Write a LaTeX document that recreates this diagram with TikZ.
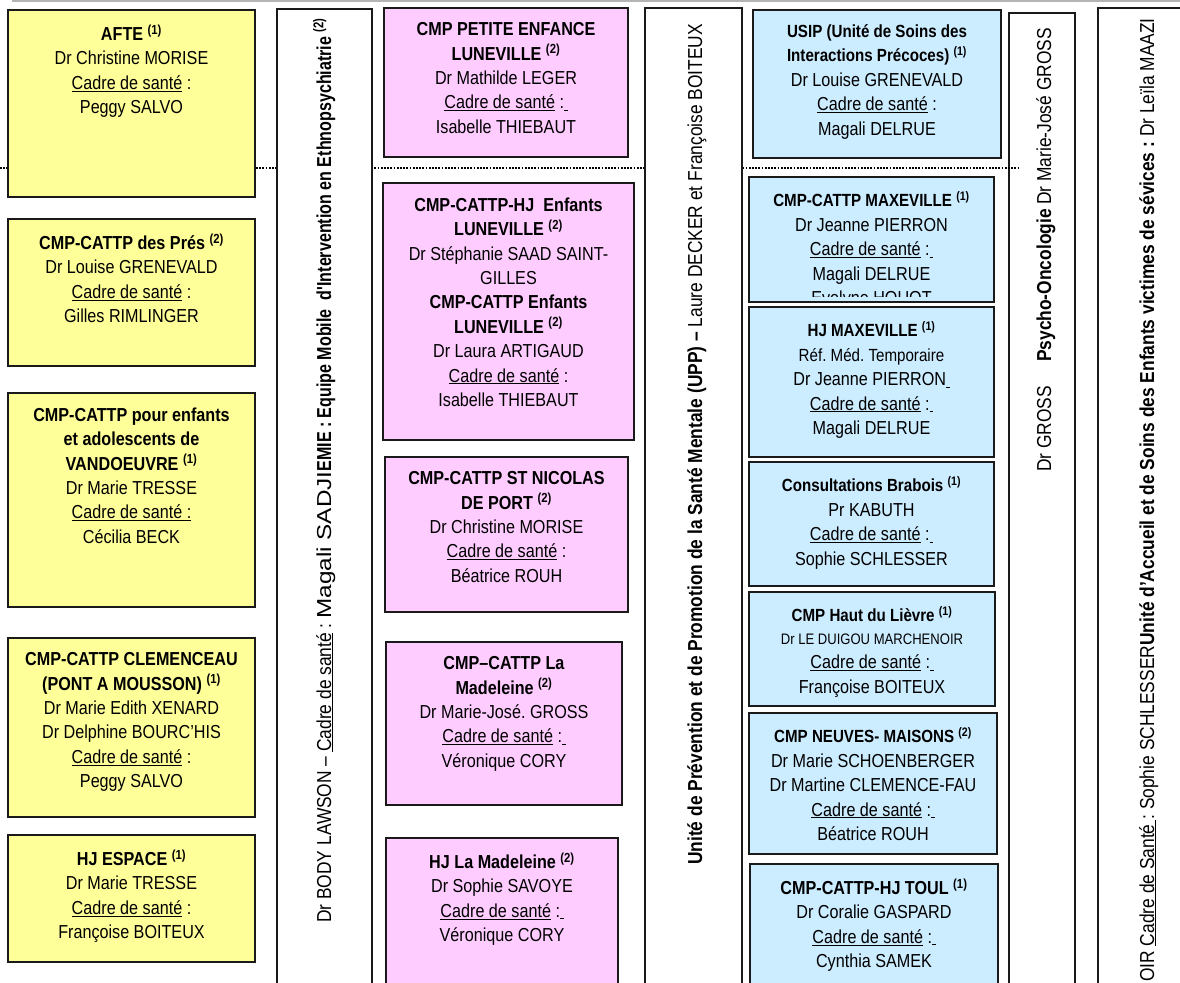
\documentclass[tikz,border=0pt]{standalone}
\usepackage{fontspec}
\setmainfont{Liberation Sans}[FakeStretch=0.86]
\newfontfamily\wideff{Liberation Sans}[FakeStretch=1.2]
\newfontfamily\condff{Liberation Sans}[FakeStretch=0.795]
\usetikzlibrary{fit}
\definecolor{ybg}{HTML}{FFFF99}
\definecolor{pbg}{HTML}{FFCCFF}
\definecolor{bbg}{HTML}{CCECFF}
\definecolor{edgec}{HTML}{1A1A1A}
\definecolor{toplinec}{HTML}{B4B4B4}
\newcommand\normsz{\fontsize{18.8}{24.4}\selectfont}
\newcommand\smsz{\fontsize{17.6}{24.4}\selectfont}
\newcommand\tinysz{\fontsize{15.2}{22}\selectfont}
\newcommand\rotsz{\fontsize{20.2}{24}\selectfont}
\newcommand\cadre{\underline{Cadre de santé}}
\newcommand\usp{\underline{\hspace{3.5pt}}}
\newcommand\nsup[1]{\textsuperscript{(#1)}}
\newcommand\btitle[1]{{\smsz\bfseries #1}}
\newcommand\orgbox[7]{%
  \node[orgbox, fill=#2, fit={(#3,#4) (#5,#6)}] (#1) {};
  \node[txt] (#1-t) at ([yshift=-15.3pt]#1.north) {#7};
}
\begin{document}
\frenchspacing
\begin{tikzpicture}[x=1pt,y=-1pt,
  orgbox/.style={draw=edgec, line width=1.8pt, inner sep=0pt},
  colbox/.style={draw=edgec, line width=1.8pt, fill=white, inner sep=0pt},
  txt/.style={inner sep=0pt, anchor=north, align=center, font=\normsz, execute at begin node=\strut},
  rot/.style={rotate=90, inner sep=0pt, font=\rotsz},
  dotline/.style={line width=1.2pt, dash pattern=on 1.8pt off 1.4pt},
  topline/.style={draw=toplinec, line width=1.5pt}]
\useasboundingbox (0,0) rectangle (1180,982);

\coordinate (tl-a) at (12,1);
\coordinate (tl-b) at (1180,1);
\draw[topline] (tl-a) -- (tl-b);

% Psycho-Oncologie column (the dotted line runs over its edge)
\node[colbox, fit={(1009,13) (1075,1000)}] (colpo) {};
\coordinate (dl-a) at (0,168);
\coordinate (dl-b) at (1020,168);
\draw[dotline] (dl-a) -- (dl-b);
\node[colbox, fit={(277,9) (372,1000)}] (colemie) {};
\node[colbox, fit={(645,8) (742,1000)}] (colupp) {};
\node[colbox, fit={(1098,8) (1190,1000)}] (coluas) {};

% yellow column
\orgbox{afte}{ybg}{8}{10}{255}{197}{\textbf{AFTE \nsup{1}}\\Dr Christine MORISE\\\cadre{} :\\Peggy SALVO}
\orgbox{pres}{ybg}{8}{219}{255}{366}{\textbf{CMP-CATTP des Prés \nsup{2}}\\Dr Louise GRENEVALD\\\cadre{} :\\Gilles RIMLINGER}
\orgbox{vand}{ybg}{8}{393}{255}{607}{\textbf{CMP-CATTP pour enfants}\\\textbf{et adolescents de}\\\textbf{VANDOEUVRE \nsup{1}}\\Dr Marie TRESSE\\\underline{Cadre de santé :}\\Cécilia BECK}
\orgbox{clem}{ybg}{8}{638}{255}{817}{\textbf{CMP-CATTP CLEMENCEAU}\\\textbf{(PONT A MOUSSON) \nsup{1}}\\Dr Marie Edith XENARD\\Dr Delphine BOURC’HIS\\\cadre{} :\\Peggy SALVO}
\orgbox{espace}{ybg}{8}{835}{255}{962}{\textbf{HJ ESPACE \nsup{1}}\\Dr Marie TRESSE\\\cadre{} :\\Françoise BOITEUX}

% pink column
\orgbox{petite}{pbg}{384}{8}{628}{157}{\textbf{CMP PETITE ENFANCE}\\\textbf{LUNEVILLE \nsup{2}}\\Dr Mathilde LEGER\\\cadre{} :\usp\\Isabelle THIEBAUT}
\orgbox{hjlun}{pbg}{383}{183}{634}{440}{\textbf{CMP-CATTP-HJ\ \ Enfants}\\\textbf{LUNEVILLE \nsup{2}}\\Dr Stéphanie SAAD SAINT-\\GILLES\\\textbf{CMP-CATTP Enfants}\\\textbf{LUNEVILLE \nsup{2}}\\Dr Laura ARTIGAUD\\\cadre{} :\\Isabelle THIEBAUT}
\orgbox{nicolas}{pbg}{385}{457}{628}{612}{\textbf{CMP-CATTP ST NICOLAS}\\\textbf{DE PORT \nsup{2}}\\Dr Christine MORISE\\\cadre{} :\\Béatrice ROUH}
\orgbox{mad}{pbg}{386}{642}{622}{805}{\textbf{CMP–CATTP La}\\\textbf{Madeleine \nsup{2}}\\Dr Marie-José. GROSS\\\cadre{} :\usp\\Véronique CORY}
\orgbox{hjmad}{pbg}{386}{838}{618}{995}{\textbf{HJ La Madeleine \nsup{2}}\\Dr Sophie SAVOYE\\\cadre{} :\usp\\Véronique CORY}

% blue column
\orgbox{usip}{bbg}{753}{10}{1001}{158}{\btitle{USIP (Unité de Soins des}\\\btitle{Interactions Précoces) \nsup{1}}\\Dr Louise GRENEVALD\\\cadre{} :\\Magali DELRUE}
\node[orgbox, fill=bbg, fit={(749,177) (994,302)}] (maxe) {};
\begin{scope}
  \clip (749,177) rectangle (994,296);
  \node[txt] (maxe-t) at ([yshift=-15.3pt]maxe.north) {\btitle{CMP-CATTP MAXEVILLE \nsup{1}}\\Dr Jeanne PIERRON\\\cadre{} :\usp\\Magali DELRUE\\Evelyne HOUOT};
\end{scope}
\orgbox{hjmax}{bbg}{749}{307}{994}{457}{\btitle{HJ MAXEVILLE \nsup{1}}\\{\smsz Réf. Méd. Temporaire}\\Dr Jeanne PIERRON\usp\\\cadre{} :\usp\\Magali DELRUE}
\orgbox{brab}{bbg}{749}{462}{994}{586}{\btitle{Consultations Brabois \nsup{1}}\\Pr KABUTH\\\cadre{} :\usp\\Sophie SCHLESSER}
\orgbox{lievre}{bbg}{749}{592}{995}{706}{\btitle{CMP Haut du Lièvre \nsup{1}}\\[-2pt]{\tinysz Dr LE DUIGOU MARCHENOIR}\\\cadre{} :\usp\\Françoise BOITEUX}
\orgbox{neuves}{bbg}{749}{713}{997}{854}{\btitle{CMP NEUVES- MAISONS \nsup{2}}\\Dr Marie SCHOENBERGER\\Dr Martine CLEMENCE-FAU\\\cadre{} :\usp\\Béatrice ROUH}
\orgbox{toul}{bbg}{750}{864}{998}{995}{\textbf{CMP-CATTP-HJ TOUL \nsup{1}}\\Dr Coralie GASPARD\\\cadre{} :\usp\\Cynthia SAMEK}

% vertical column texts
\node[rot, anchor=base west] (emie-t) at (331,923) {Dr BODY LAWSON – \cadre{} : {\wideff Magali SADJI}{\condff\bfseries EMIE : Equipe Mobile\ \ d'Intervention en Ethnopsychiatrie \nsup{2}}};
\node[rot, anchor=base west] (upp-t) at (702,865) {\textbf{Unité de Prévention et de Promotion de la Santé Mentale (UPP) –} Laure DECKER et Françoise BOITEUX};
\node[rot, anchor=base west] (po-a) at (1051,472) {Dr GROSS};
\node[rot, anchor=base west, font=\rotsz\bfseries] (po-b) at (1051,362) {Psycho-Oncologie};
\node[rot, anchor=base west] (po-c) at (1051,205) {Dr Marie-José GROSS};
\node[rot, anchor=base east] (uas-t) at (1154,18) {OIR \underline{Cadre de Santé }: Sophie SCHLESSER\textbf{Unité d'Accueil et de Soins des Enfants victimes de sévices :} Dr Leïla MAAZI};
\end{tikzpicture}
\end{document}
